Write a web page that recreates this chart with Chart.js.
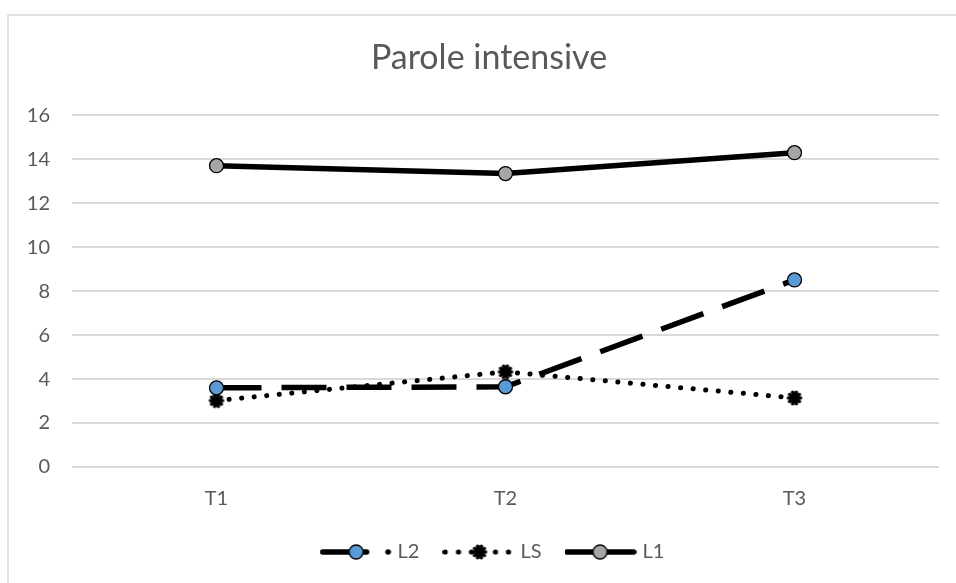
<!DOCTYPE html>
<html><head><meta charset="utf-8">
<script src="https://cdn.jsdelivr.net/npm/chart.js@4/dist/chart.umd.min.js"></script>
<style>html,body{margin:0;padding:0;background:#fff;overflow:hidden}#wrap{position:relative;width:976px;height:583px}</style>
</head><body><div id="wrap"><canvas id="c"></canvas></div>
<script>
const categories = ['T1', 'T2', 'T3'];
const seriesNames = ['L2', 'LS', 'L1'];
const valuesL2 = [3.6, 3.65, 8.51];
const valuesLS = [3.02, 4.33, 3.14];
const valuesL1 = [13.71, 13.35, 14.3];
const yMin = 0, yMax = 16, yStep = 2;
const chartTitle = 'Parole intensive';

const TEXT = '#595959';
const GRID = '#d9d9d9';
const BLUE = '#5b9bd5';
const GRAY = '#a5a5a5';

function mk(w, h) { const c = document.createElement('canvas'); c.width = w; c.height = h; return [c, c.getContext('2d')]; }
function drawGear(x, cx, cy) {
  x.fillStyle = '#000';
  x.beginPath(); x.arc(cx, cy, 5.5, 0, 2 * Math.PI); x.fill();
  for (let i = 0; i < 10; i++) {
    const a = i * Math.PI / 5;
    x.beginPath(); x.arc(cx + 6 * Math.cos(a), cy + 6 * Math.sin(a), 1.8, 0, 2 * Math.PI); x.fill();
  }
}
function drawCircle(x, cx, cy, fill) {
  x.beginPath(); x.arc(cx, cy, 7, 0, 2 * Math.PI);
  x.fillStyle = fill; x.fill(); x.lineWidth = 1.3; x.strokeStyle = '#000'; x.stroke();
}
const gearImg = (() => { const [c, x] = mk(18, 18); drawGear(x, 9, 9); return c; })();

const legL2 = (() => {
  const [c, x] = mk(72, 20);
  x.strokeStyle = '#000'; x.lineWidth = 5.5; x.lineCap = 'round';
  x.beginPath(); x.moveTo(3, 10); x.lineTo(47, 10); x.stroke();
  x.fillStyle = '#000'; x.beginPath(); x.arc(68.5, 10, 2.8, 0, 2 * Math.PI); x.fill();
  drawCircle(x, 36.5, 10, BLUE);
  return c;
})();
const legLS = (() => {
  const [c, x] = mk(72, 20);
  x.fillStyle = '#000';
  [2.7, 16, 29, 53, 66].forEach(px => { x.beginPath(); x.arc(px, 10, 2.6, 0, 2 * Math.PI); x.fill(); });
  drawGear(x, 37, 10);
  return c;
})();
const legL1 = (() => {
  const [c, x] = mk(72, 20);
  x.strokeStyle = '#000'; x.lineWidth = 5.5; x.lineCap = 'round';
  x.beginPath(); x.moveTo(2.5, 10); x.lineTo(69, 10); x.stroke();
  drawCircle(x, 35.5, 10, GRAY);
  return c;
})();
const legendImgs = [legL2, legLS, legL1];

const framePlugin = {
  id: 'frame',
  afterLayout(chart) {
    // nudge title and legend boxes horizontally to match the reference centring
    if (chart.titleBlock) { chart.titleBlock.left += 7; chart.titleBlock.right += 7; }
    if (chart.legend) { chart.legend.left += 12; chart.legend.right += 12; }
  },
  beforeDraw(chart) {
    const ctx = chart.ctx;
    ctx.save();
    ctx.fillStyle = '#fff'; ctx.fillRect(0, 0, chart.width, chart.height);
    ctx.strokeStyle = GRID; ctx.lineWidth = 1.5;
    ctx.strokeRect(8, 15, chart.width + 20, chart.height + 20);
    ctx.restore();
  }
};

Chart.defaults.font.family = 'Lato';
Chart.defaults.color = TEXT;

new Chart(document.getElementById('c'), {
  type: 'line',
  data: {
    labels: categories,
    datasets: [
      { label: seriesNames[0], data: valuesL2, borderColor: '#000', borderWidth: 5.5, borderDash: [45, 20], borderCapStyle: 'butt',
        pointStyle: 'circle', pointRadius: 7, pointBackgroundColor: BLUE, pointBorderColor: '#000', pointBorderWidth: 1.3, tension: 0, fill: false },
      { label: seriesNames[1], data: valuesLS, borderColor: '#000', borderWidth: 5, borderDash: [0.1, 12.5], borderCapStyle: 'round',
        pointStyle: gearImg, pointRadius: 7, pointBackgroundColor: '#000', pointBorderColor: '#000', tension: 0, fill: false },
      { label: seriesNames[2], data: valuesL1, borderColor: '#000', borderWidth: 5.5, borderCapStyle: 'round',
        pointStyle: 'circle', pointRadius: 7, pointBackgroundColor: GRAY, pointBorderColor: '#000', pointBorderWidth: 1.3, tension: 0, fill: false }
    ]
  },
  options: {
    responsive: true,
    maintainAspectRatio: false,
    animation: false,
    layout: { padding: { top: 15, left: 25, right: 37, bottom: 11 } },
    plugins: {
      title: { display: true, text: chartTitle, color: TEXT, font: { size: 34, weight: 'normal' }, padding: { top: 23, bottom: 36.5 } },
      legend: {
        position: 'bottom',
        labels: {
          usePointStyle: true,
          pointStyleWidth: 64,
          padding: 27,
          color: TEXT,
          font: { size: 20 },
          generateLabels(chart) {
            return chart.data.datasets.map((ds, i) => ({
              text: ds.label, pointStyle: legendImgs[i], fillStyle: '#000', strokeStyle: 'rgba(0,0,0,0)', lineWidth: 0,
              hidden: false, datasetIndex: i, fontColor: TEXT
            }));
          }
        }
      },
      tooltip: { enabled: false }
    },
    scales: {
      x: {
        offset: true,
        afterFit(scale) { scale.height = 48; },
        grid: { display: false, drawTicks: false },
        border: { display: false },
        ticks: { color: TEXT, font: { size: 20 }, padding: 20 }
      },
      y: {
        min: yMin, max: yMax,
        afterFit(scale) { scale.width = 47; },
        grid: { color: GRID, lineWidth: 2, drawTicks: false },
        border: { display: false },
        ticks: { stepSize: yStep, color: TEXT, font: { size: 20 }, padding: 22 }
      }
    }
  },
  plugins: [framePlugin]
});
</script>
</body></html>
